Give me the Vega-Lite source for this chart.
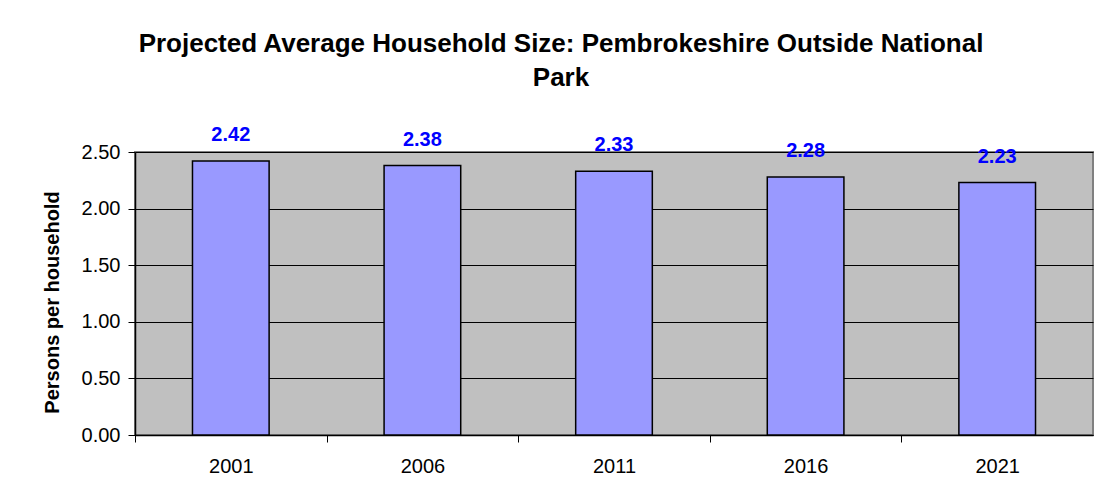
{
  "$schema": "https://vega.github.io/schema/vega-lite/v6.json",
  "width": 958,
  "height": 283,
  "autosize": {"type": "none"},
  "padding": {"left": 135, "top": 152, "right": 5, "bottom": 67},
  "background": "white",
  "title": {
    "text": ["Projected Average Household Size: Pembrokeshire Outside National", "Park"],
    "font": "Arial, Liberation Sans",
    "fontSize": 26,
    "fontWeight": "bold",
    "color": "black",
    "lineHeight": 34,
    "anchor": "middle",
    "frame": "group",
    "dx": -53,
    "offset": 34
  },
  "config": {
    "view": {"fill": "#C0C0C0", "stroke": "#808080", "strokeWidth": 2},
    "font": "Arial, Liberation Sans"
  },
  "data": {
    "values": [
      {"year": "2001", "size": 2.42},
      {"year": "2006", "size": 2.38},
      {"year": "2011", "size": 2.33},
      {"year": "2016", "size": 2.28},
      {"year": "2021", "size": 2.23}
    ]
  },
  "encoding": {
    "x": {
      "field": "year",
      "type": "nominal",
      "scale": {"paddingInner": 0.6, "paddingOuter": 0.3},
      "axis": {
        "title": null,
        "labelAngle": 0,
        "labelFont": "Arial, Liberation Sans",
        "labelFontSize": 20,
        "labelColor": "black",
        "labelPadding": 14,
        "bandPosition": 0,
        "tickOffset": -57.48,
        "labelOffset": 57.48,
        "ticks": true,
        "tickSize": 7,
        "tickColor": "black",
        "tickWidth": 1,
        "domainColor": "black",
        "domainWidth": 1.5
      }
    },
    "y": {
      "field": "size",
      "type": "quantitative",
      "scale": {"domain": [0, 2.5], "nice": false},
      "axis": {
        "title": "Persons per household",
        "titleFont": "Arial, Liberation Sans",
        "titleFontSize": 20,
        "titleFontWeight": "bold",
        "titleColor": "black",
        "titleX": -83,
        "titleY": 150,
        "titleBaseline": "middle",
        "titleAlign": "center",
        "titleAngle": -90,
        "values": [0, 0.5, 1, 1.5, 2, 2.5],
        "format": ".2f",
        "labelFont": "Arial, Liberation Sans",
        "labelFontSize": 20,
        "labelColor": "black",
        "labelPadding": 8,
        "tickSize": 7,
        "tickColor": "black",
        "domainColor": "black",
        "domainWidth": 1.5,
        "grid": true,
        "gridColor": "black",
        "gridWidth": 1,
        "gridOpacity": 1
      }
    }
  },
  "layer": [
    {
      "mark": {"type": "bar", "fill": "#9999FF", "stroke": "black", "strokeWidth": 1.5}
    },
    {
      "mark": {
        "type": "text",
        "color": "#0000FF",
        "font": "Arial, Liberation Sans",
        "fontSize": 20,
        "fontWeight": "bold",
        "baseline": "alphabetic",
        "dy": -20
      },
      "encoding": {
        "text": {"field": "size", "type": "quantitative", "format": ".2f"}
      }
    }
  ]
}
